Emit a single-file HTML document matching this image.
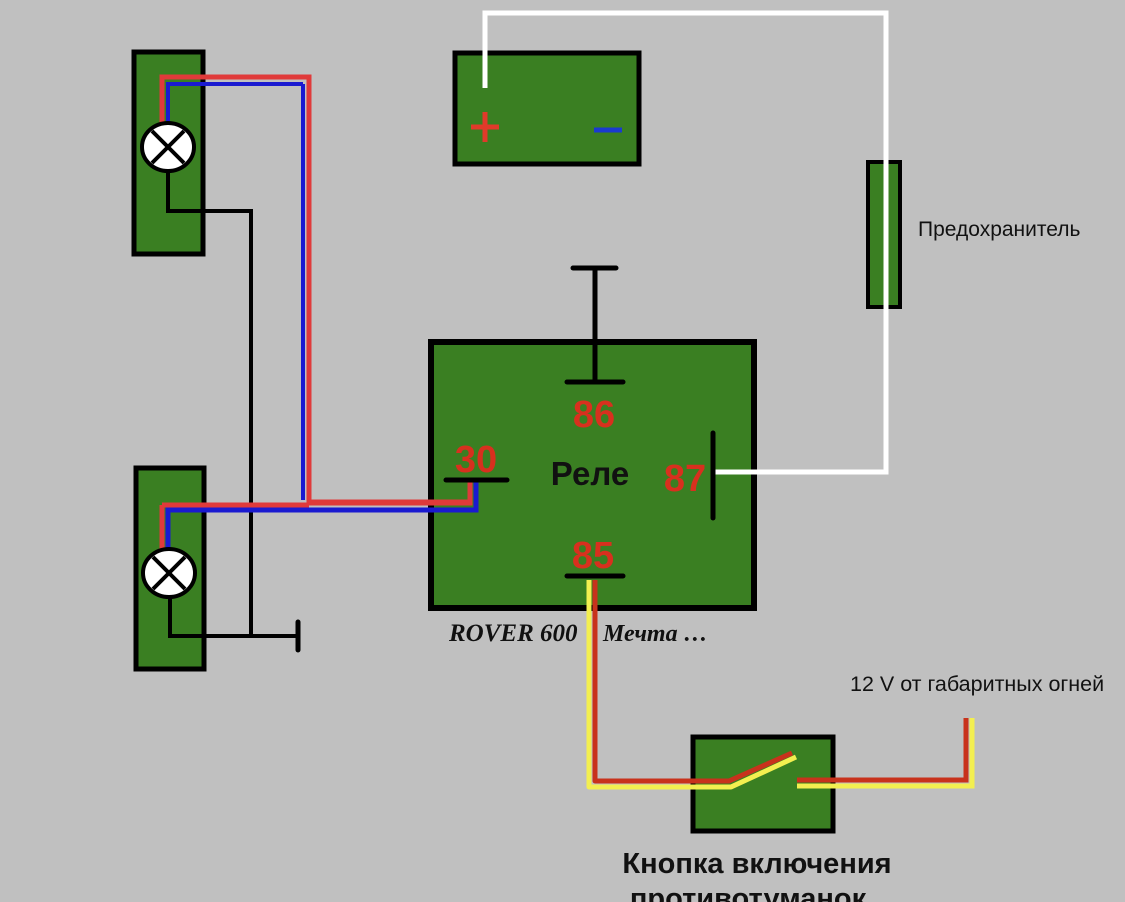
<!DOCTYPE html>
<html><head><meta charset="utf-8"><style>
html,body{margin:0;padding:0;background:#c0c0c0;}
svg{display:block;}
text{font-family:"Liberation Sans",sans-serif;}
</style></head><body>
<svg width="1125" height="902" viewBox="0 0 1125 902" xmlns="http://www.w3.org/2000/svg">
<rect width="1125" height="902" fill="#c0c0c0"/>
<rect x="134" y="52" width="69" height="202" fill="#3a7f22" stroke="#000" stroke-width="5"/>
<rect x="136" y="468" width="68" height="201" fill="#3a7f22" stroke="#000" stroke-width="5"/>
<polyline points="168,172 168,211 251,211 251,636" fill="none" stroke="#000" stroke-width="4"/>
<polyline points="170,598 170,636 298,636" fill="none" stroke="#000" stroke-width="4"/>
<line x1="298" y1="622" x2="298" y2="650" stroke="#000" stroke-width="5" stroke-linecap="round"/>
<rect x="431" y="342" width="323" height="266" fill="#3a7f22" stroke="#000" stroke-width="6"/>
<polyline points="162,140 162,77 309,77 309,502 470,502 470,480" fill="none" stroke="#e03a3a" stroke-width="5"/>
<polyline points="168,140 168,84 303,84" fill="none" stroke="#1a1ad0" stroke-width="4"/>
<polyline points="303,84 303,500" fill="none" stroke="#1a1ad0" stroke-width="4"/>
<polyline points="162,550 162,505" fill="none" stroke="#e03a3a" stroke-width="5"/>
<polyline points="168,550 168,510 476,510 476,480" fill="none" stroke="#1a1ad0" stroke-width="5"/>
<polyline points="162,505 309,505" fill="none" stroke="#e03a3a" stroke-width="5"/>
<polyline points="309,503 470,503 470,480" fill="none" stroke="#e03a3a" stroke-width="5"/>
<g stroke="#000" stroke-width="4">
<ellipse cx="168" cy="147" rx="26" ry="24" fill="#fff"/>
<line x1="152" y1="131" x2="184" y2="163"/><line x1="184" y1="131" x2="152" y2="163"/>
<ellipse cx="169" cy="573" rx="26" ry="24" fill="#fff"/>
<line x1="153" y1="557" x2="185" y2="589"/><line x1="185" y1="557" x2="153" y2="589"/>
</g>
<rect x="455" y="53" width="184" height="111" fill="#3a7f22" stroke="#000" stroke-width="5"/>
<g stroke="#e03a2a" stroke-width="5"><line x1="471" y1="127" x2="499" y2="127"/><line x1="485" y1="112" x2="485" y2="142"/></g>
<line x1="594" y1="130" x2="622" y2="130" stroke="#1a3ad0" stroke-width="5"/>
<rect x="868" y="162" width="32" height="145" fill="#3a7f22" stroke="#000" stroke-width="4"/>
<polyline points="485,88 485,13 886,13 886,472 712,472" fill="none" stroke="#fff" stroke-width="5"/>
<text x="918" y="236" font-size="21" fill="#111">Предохранитель</text>
<g stroke="#000" stroke-width="5" stroke-linecap="round">
<line x1="573" y1="268" x2="616" y2="268"/><line x1="595" y1="268" x2="595" y2="382"/>
<line x1="567" y1="382" x2="623" y2="382"/>
<line x1="446" y1="480" x2="507" y2="480"/>
<line x1="713" y1="433" x2="713" y2="518"/>
<line x1="567" y1="576" x2="623" y2="576"/>
</g>
<g fill="#d8301e" font-size="38" text-anchor="middle" font-weight="bold">
<text x="594" y="427">86</text>
<text x="476" y="472">30</text>
<text x="685" y="491">87</text>
<text x="593" y="568">85</text>
</g>
<text x="590" y="485" font-size="33" text-anchor="middle" font-weight="bold" fill="#111">Реле</text>
<text x="449" y="641" font-size="25" font-style="italic" font-weight="bold" fill="#111" style="font-family:'Liberation Serif',serif">ROVER 600</text>
<text x="603" y="641" font-size="24" font-style="italic" font-weight="bold" fill="#111" style="font-family:'Liberation Serif',serif">Мечта …</text>
<rect x="693" y="737" width="140" height="94" fill="#3a7f22" stroke="#000" stroke-width="5"/>
<polyline points="589,580 589,787 731,787 796,757" fill="none" stroke="#f3ef50" stroke-width="5" stroke-linejoin="round"/>
<polyline points="595,580 595,781 729,781 792,753" fill="none" stroke="#c8321c" stroke-width="5" stroke-linejoin="round"/>
<polyline points="797,786 972,786 972,718" fill="none" stroke="#f3ef50" stroke-width="5"/>
<polyline points="797,780 966,780 966,718" fill="none" stroke="#c8321c" stroke-width="5"/>
<text x="850" y="691" font-size="21.5" fill="#111">12 V от габаритных огней</text>
<text x="757" y="873" font-size="29" text-anchor="middle" fill="#111" font-weight="bold">Кнопка включения</text>
<text x="748" y="908" font-size="29" text-anchor="middle" fill="#111" font-weight="bold">противотуманок</text>
</svg>
</body></html>
